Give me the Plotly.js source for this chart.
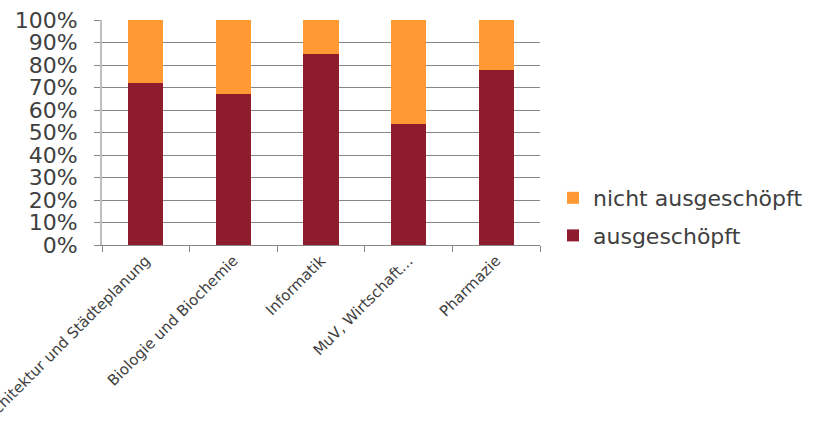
<!DOCTYPE html>
<html><head><meta charset="utf-8">
<script src="https://cdn.plot.ly/plotly-3.0.1.min.js"></script>
<style>html,body{margin:0;padding:0;background:#fff}#c{width:823px;height:428px}</style>
</head><body><div id="c"></div>
<script>
const categories = ["Architektur und Städteplanung", "Biologie und Biochemie", "Informatik", "MuV, Wirtschaft…", "Pharmazie"];
const ausgeschoepft = [0.72, 0.67, 0.85, 0.54, 0.78];
const nichtAusgeschoepft = [0.28, 0.33, 0.15, 0.46, 0.22];
const yTickVals = [0, 0.1, 0.2, 0.3, 0.4, 0.5, 0.6, 0.7, 0.8, 0.9, 1.0];
const yTickText = ["0%", "10%", "20%", "30%", "40%", "50%", "60%", "70%", "80%", "90%", "100%"];

const traces = [
  {type: 'bar', name: 'ausgeschöpft', x: categories, y: ausgeschoepft, legendgroup: 'a', legendrank: 2,
   marker: {color: '#8E1C2E', line: {width: 0}}, hoverinfo: 'none'},
  {type: 'bar', name: 'nicht ausgeschöpft', x: categories, y: nichtAusgeschoepft, legendgroup: 'b', legendrank: 1,
   marker: {color: '#FF9933', line: {width: 0}}, hoverinfo: 'none'}
];
const layout = {
  width: 823, height: 428,
  margin: {l: 102, r: 283, t: 20, b: 183, pad: 0},
  paper_bgcolor: '#ffffff', plot_bgcolor: '#ffffff',
  barmode: 'stack', bargap: 0.6,
  font: {family: 'DejaVu Sans, Verdana, sans-serif', color: '#404040'},
  xaxis: {
    type: 'category', tickson: 'boundaries', ticks: 'outside', ticklen: 6, tickcolor: '#868686',
    showline: true, linecolor: '#868686', linewidth: 1, showgrid: false,
    tickangle: -45, tickfont: {size: 15, color: '#404040'}, automargin: false
  },
  yaxis: {
    range: [0, 1], tickvals: yTickVals, ticktext: yTickText, ticks: 'outside', ticklen: 6,
    tickcolor: '#868686', showline: true, linecolor: '#bfbfbf', linewidth: 2,
    showgrid: true, gridcolor: '#868686', gridwidth: 1, zeroline: false,
    tickfont: {size: 22, color: '#404040'}, ticklabelstandoff: 12, automargin: false
  },
  showlegend: true,
  legend: {
    xref: 'container', yref: 'container', xanchor: 'left', yanchor: 'middle',
    traceorder: 'grouped', tracegroupgap: 6,
    font: {size: 22, color: '#404040'}, bgcolor: 'rgba(0,0,0,0)', itemwidth: 30
  }
};
layout.legend.y = 1 - 217/428;
layout.legend.x = 553/823;
Plotly.newPlot('c', traces, layout, {staticPlot: true, displayModeBar: false});
</script></body></html>
